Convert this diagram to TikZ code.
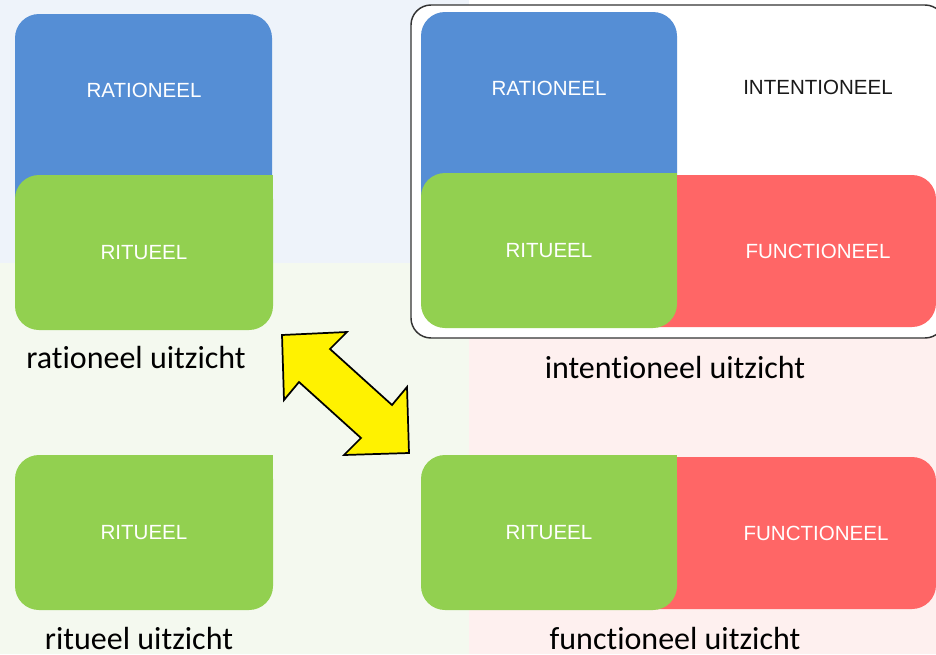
\documentclass[tikz,border=0pt]{standalone}
\usepackage{fontspec}
\setmainfont{Liberation Sans}
\newfontfamily\capfont[Ligatures={NoCommon,NoRare,NoDiscretionary}]{Carlito}
\definecolor{cblue}{HTML}{558ED5}
\definecolor{cgreen}{HTML}{92D050}
\definecolor{cred}{HTML}{FF6666}
\definecolor{bgblue}{HTML}{EEF3FA}
\definecolor{bggreen}{HTML}{F4F9EF}
\definecolor{bgpink}{HTML}{FEF0EF}
\definecolor{frame}{HTML}{333333}
\tikzset{
  boxtxt/.style={text=white, font=\fontsize{15.4}{18}\selectfont, inner sep=0pt},
  captxt/.style={text=black, font=\capfont\fontsize{24}{28}\selectfont, inner sep=0pt},
  rbox/.style={rounded corners=18pt},
}
\begin{document}
\begin{tikzpicture}[x=0.75pt,y=-0.75pt]
\useasboundingbox (0,0) rectangle (936,654);
% backgrounds
\fill[bgblue] (0,0) rectangle (469,263);
\fill[bggreen] (0,263) rectangle (469,654);
\fill[white] (469,0) rectangle (936,263);
\fill[bgpink] (469,263) rectangle (936,654);

% rationeel view
\fill[cblue,rbox] (15,14) rectangle (272,300);
\fill[cgreen,rbox] (15,175) rectangle (273,330);
\fill[cgreen] (240,175) rectangle (273,215);
\node[boxtxt] (r1) at (144,90) {RATIONEEL};
\node[boxtxt] (g1) at (144,253) {RITUEEL};
\node[captxt] (c1) at (136,357) {rationeel uitzicht};

% intentioneel view
\draw[frame,fill=white,line width=1.1pt,rounded corners=15pt] (411,5) rectangle (945,338);
\fill[cblue,rbox] (421,12) rectangle (677,300);
\fill[cred,rbox] (600,175) rectangle (936,327);
\fill[cgreen,rbox] (421,173) rectangle (677,328);
\fill[cgreen] (640,173) rectangle (677,215);
\node[boxtxt] (r2) at (549,88) {RATIONEEL};
\node[boxtxt,text=black!90] (i2) at (818,87) {INTENTIONEEL};
\node[boxtxt] (g2) at (549,251) {RITUEEL};
\node[boxtxt] (f2) at (818,251) {FUNCTIONEEL};
\node[captxt] (c2) at (675,367) {intentioneel uitzicht};

% ritueel view
\fill[cgreen,rbox] (15,455) rectangle (273,610);
\fill[cgreen] (240,455) rectangle (273,495);
\node[boxtxt] (g3) at (144,533) {RITUEEL};
\node[captxt] (c3) at (139,638) {ritueel uitzicht};

% functioneel view
\fill[cred,rbox] (600,457) rectangle (936,609);
\fill[cgreen,rbox] (421,455) rectangle (677,610);
\fill[cgreen] (640,455) rectangle (677,495);
\node[boxtxt] (g4) at (549,533) {RITUEEL};
\node[boxtxt] (f4) at (816,533) {FUNCTIONEEL};
\node[captxt] (c4) at (675,638) {functioneel uitzicht};

% double arrow
\draw[black,fill=yellow,line width=1.3pt,line join=miter]
  (282,335) -- (347,332) -- (330,349) -- (392,405) -- (407,387)
  -- (409,453) -- (344,455) -- (361,438) -- (299,382) -- (284,400) -- cycle;
\end{tikzpicture}
\end{document}
